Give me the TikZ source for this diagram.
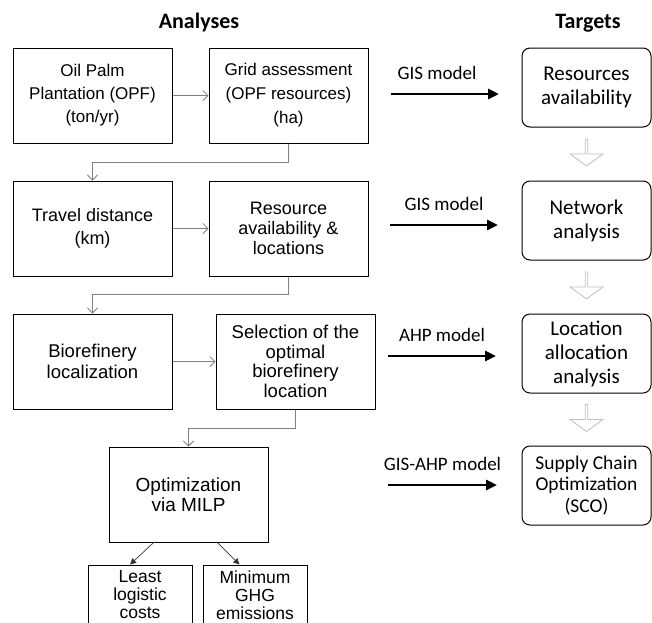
\documentclass[tikz,border=0pt]{standalone}
\usepackage{fontspec}
\newfontfamily\arialf{Liberation Sans}
\newfontfamily\calibrif{Carlito}
\usetikzlibrary{positioning}
\usetikzlibrary{arrows.meta}
\usetikzlibrary{shapes.arrows}
\tikzset{%
	% Specifications for style of nodes:
	base/.style = {rectangle, draw=black, line width=1pt, align=center, inner sep=2pt},
	analysis/.style = {base, minimum width=159pt, minimum height=95pt,
		font=\arialf\fontsize{18pt}{20pt}\selectfont},
	result/.style = {base, minimum width=104pt, minimum height=60pt,
		font=\arialf\fontsize{17.5pt}{18pt}\selectfont},
	target/.style = {base, rounded corners=8pt, minimum width=129pt, minimum height=79pt,
		font=\calibrif\fontsize{21pt}{24pt}\selectfont},
	title/.style = {font=\calibrif\bfseries\fontsize{22pt}{26pt}\selectfont},
	modelLabel/.style = {inner sep=0pt, font=\calibrif\fontsize{19pt}{22pt}\selectfont},
	% Specifications for style of arrows:
	flow/.style = {draw=black!50, line width=0.8pt, -{Straight Barb[length=5pt,width=10pt]}},
	resArrow/.style = {draw=black!80, line width=0.7pt, -{Triangle[length=6pt,width=6pt]}},
	modelArrow/.style = {line width=2.8pt, -{Triangle[length=11pt,width=10pt]}},
	stepArrow/.style = {single arrow, draw=black!25, fill=white, line width=0.8pt,
		shape border rotate=270, minimum height=27pt, minimum width=33pt,
		single arrow head extend=5pt, single arrow tip angle=108, inner sep=0pt}
}

\begin{document}
\begin{tikzpicture}[x=1pt, y=-1pt]
	\clip (0,0) rectangle (652,622);
	\node[title] (titleAnalyses) at (199,23) {Analyses};
	\node[title] (titleTargets) at (588,23) {Targets};
	%% Analyses
	\node[analysis, font=\arialf\fontsize{17pt}{23pt}\selectfont] (plantation) at (92.5,95.5) {Oil Palm\\Plantation (OPF)\\(ton/yr)};
	\node[analysis, font=\arialf\fontsize{17pt}{24pt}\selectfont, right=36pt of plantation] (gridAssess) {Grid assessment\\(OPF resources)\\(ha)};
	\node[analysis, font=\arialf\fontsize{18pt}{23pt}\selectfont, below=37pt of plantation] (travelDist) {Travel distance\\(km)};
	\node[analysis, right=36pt of travelDist] (resLoc) {Resource\\availability \&\\locations};
	\node[analysis, font=\arialf\fontsize{18.5pt}{21pt}\selectfont, below=37pt of travelDist] (bioLoc) {Biorefinery\\localization};
	\node[analysis, font=\arialf\fontsize{18.5pt}{19.5pt}\selectfont, right=43pt of bioLoc] (bioSelect) {Selection of the\\optimal\\biorefinery\\location};
	\node[analysis, font=\arialf\fontsize{19pt}{20pt}\selectfont, below=37pt of bioLoc, xshift=96pt] (milpOpt) {Optimization\\via MILP};
	\node[result] (leastCost) at (140,595) {Least\\logistic\\costs};
	\node[result] (minGHG) at (255,595) {Minimum\\GHG\\emissions};
	\draw[flow] (plantation) -- (gridAssess);
	\draw[flow] (gridAssess.south) -- ++(0,-19pt) -| (travelDist.north);
	\draw[flow] (travelDist) -- (resLoc);
	\draw[flow] (resLoc.south) -- ++(0,-18pt) -| (bioLoc.north);
	\draw[flow] (bioLoc) -- (bioSelect);
	\draw[flow] (bioSelect.south) -- ++(0,-19pt) -| (milpOpt.north);
	\draw[resArrow] (milpOpt.-126) -- (leastCost.108);
	\draw[resArrow] (milpOpt.-59) -- (minGHG.117);
	%% Targets
	\node[target] (tResAvail) at (586.5,87.5) {Resources\\availability};
	\node[target, below=53pt of tResAvail] (tNetwork) {Network\\analysis};
	\node[target, below=53pt of tNetwork] (tLocAlloc) {Location\\allocation\\analysis};
	\node[target, font=\calibrif\fontsize{19.5pt}{21.5pt}\selectfont, below=52pt of tLocAlloc] (tSCO) {Supply Chain\\Optimization\\(SCO)};
	\path (tResAvail.south) -- (tNetwork.north) node[midway, stepArrow, yshift=2pt] (stepA) {};
	\path (tNetwork.south) -- (tLocAlloc.north) node[midway, stepArrow, yshift=2pt] (stepB) {};
	\path (tLocAlloc.south) -- (tSCO.north) node[midway, stepArrow, yshift=2pt] (stepC) {};
	%% Models
	\coordinate (gisAStart) at (391,94);
	\coordinate (gisAEnd) at (499,94);
	\coordinate (gisBStart) at (390,225);
	\coordinate (gisBEnd) at (498,225);
	\coordinate (ahpStart) at (388,356);
	\coordinate (ahpEnd) at (496,356);
	\coordinate (gisAhpStart) at (388,485);
	\coordinate (gisAhpEnd) at (497,485);
	\draw[modelArrow] (gisAStart) -- (gisAEnd) node[midway, modelLabel, above=12.5pt, xshift=-8pt] (lblGisA) {GIS model};
	\draw[modelArrow] (gisBStart) -- (gisBEnd) node[midway, modelLabel, above=12.5pt] (lblGisB) {GIS model};
	\draw[modelArrow] (ahpStart) -- (ahpEnd) node[midway, modelLabel, above=12.5pt] (lblAhp) {AHP model};
	\draw[modelArrow] (gisAhpStart) -- (gisAhpEnd) node[midway, modelLabel, above=12.5pt] (lblGisAhp) {GIS-AHP model};
\end{tikzpicture}
\end{document}
